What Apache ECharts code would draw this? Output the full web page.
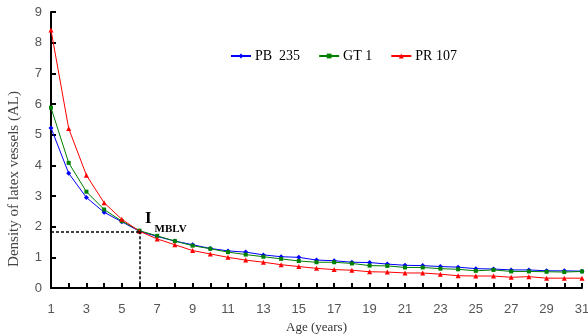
<!DOCTYPE html>
<html><head><meta charset="utf-8">
<script src="https://cdn.jsdelivr.net/npm/echarts@6/dist/echarts.min.js"></script>
<style>html,body{margin:0;padding:0;background:#fff}#c{width:588px;height:335px}</style>
</head><body><div id="c"></div>
<script>
const ages = ['1','2','3','4','5','6','7','8','9','10','11','12','13','14','15','16','17','18','19','20','21','22','23','24','25','26','27','28','29','30','31'];
const pb235 = [5.22,3.74,2.95,2.47,2.16,1.85,1.68,1.53,1.41,1.29,1.21,1.17,1.08,1.02,1.0,0.91,0.89,0.84,0.83,0.78,0.74,0.73,0.70,0.68,0.63,0.62,0.59,0.59,0.56,0.56,0.55];
const gt1 = [5.88,4.08,3.14,2.56,2.18,1.87,1.70,1.53,1.38,1.28,1.17,1.09,1.02,0.95,0.88,0.84,0.84,0.80,0.73,0.72,0.67,0.67,0.63,0.61,0.56,0.59,0.54,0.54,0.53,0.52,0.54];
const pr107 = [8.41,5.2,3.68,2.78,2.24,1.85,1.6,1.41,1.22,1.11,1.0,0.91,0.84,0.76,0.70,0.64,0.60,0.58,0.53,0.52,0.49,0.49,0.45,0.40,0.39,0.39,0.35,0.37,0.32,0.32,0.32];
const yTicks = [0,1,2,3,4,5,6,7,8,9];
const mblvAge = '6';
const mblvDensity = 1.85;

const serif = '"Liberation Serif","Times New Roman",serif';
const sans = '"Liberation Sans",Arial,sans-serif';
const chart = echarts.init(document.getElementById('c'), null, {renderer:'canvas'});
function ser(name, data, color, symbol, size){
  return {name, type:'line', data, symbol, symbolSize:size, showSymbol:true,
    lineStyle:{color, width:1}, itemStyle:{color}, animation:false};
}
const s1 = ser('PB  235', pb235, '#0000ff', 'diamond', 5);
const s2 = ser('GT 1', gt1, '#008000', 'rect', 4);
const s3 = ser('PR 107', pr107, '#ff0000', 'triangle', 5);
s3.markLine = {
  silent:true, symbol:'none', animation:false,
  lineStyle:{color:'#000', type:[3,2], width:1.5},
  label:{show:false},
  data:[
    [{coord:[ages[0], mblvDensity]},{coord:[mblvAge, mblvDensity]}],
    [{coord:[mblvAge, mblvDensity]},{coord:[mblvAge, yTicks[0]]}]
  ]
};
s3.markPoint = {
  symbol:'circle', symbolSize:1, animation:false, silent:true,
  itemStyle:{color:'rgba(0,0,0,0)'},
  label:{show:true, position:'right', distance:0, offset:[5,-9],
    formatter:'{i|I}{s|MBLV}',
    rich:{
      i:{fontFamily:serif, fontSize:17, fontWeight:'bold', color:'#000', verticalAlign:'bottom', padding:[0,3,7,0]},
      s:{fontFamily:serif, fontSize:11, fontWeight:'bold', color:'#000', verticalAlign:'bottom'}
    }},
  data:[{coord:[mblvAge, mblvDensity]}]
};
chart.setOption({
  animation:false,
  backgroundColor:'#fff',
  grid:{left:51, right:6, top:12, bottom:47, containLabel:false, outerBoundsMode:'none'},
  legend:{top:44, left:225, itemWidth:20, itemHeight:6, itemGap:18,
    textStyle:{fontFamily:serif, fontSize:14, color:'#000', padding:[0,0,0,-1]},
    data:['PB  235','GT 1','PR 107']},
  xAxis:{type:'category', data:ages, boundaryGap:false,
    axisLine:{lineStyle:{color:'#000', width:2}},
    axisTick:{inside:true, interval:0, length:5, lineStyle:{color:'#000', width:2}},
    axisLabel:{interval:1, color:'#555', fontFamily:sans, fontSize:13, margin:15},
    splitLine:{show:false},
    name:'Age (years)', nameLocation:'middle', nameGap:33,
    nameTextStyle:{fontFamily:serif, fontSize:13, color:'#333'}
  },
  yAxis:{type:'value', min:yTicks[0], max:yTicks[yTicks.length-1], interval:1,
    axisLine:{show:true, lineStyle:{color:'#000', width:2}},
    axisTick:{show:true, inside:true, length:5, lineStyle:{color:'#000', width:2}},
    axisLabel:{color:'#555', fontFamily:sans, fontSize:13, margin:9},
    splitLine:{show:false},
    name:'Density of latex vessels (AL)', nameLocation:'middle', nameGap:29,
    nameTextStyle:{fontFamily:serif, fontSize:15, color:'#444', padding:[0,58,0,0]}
  },
  series:[s1,s2,s3]
});
</script></body></html>
